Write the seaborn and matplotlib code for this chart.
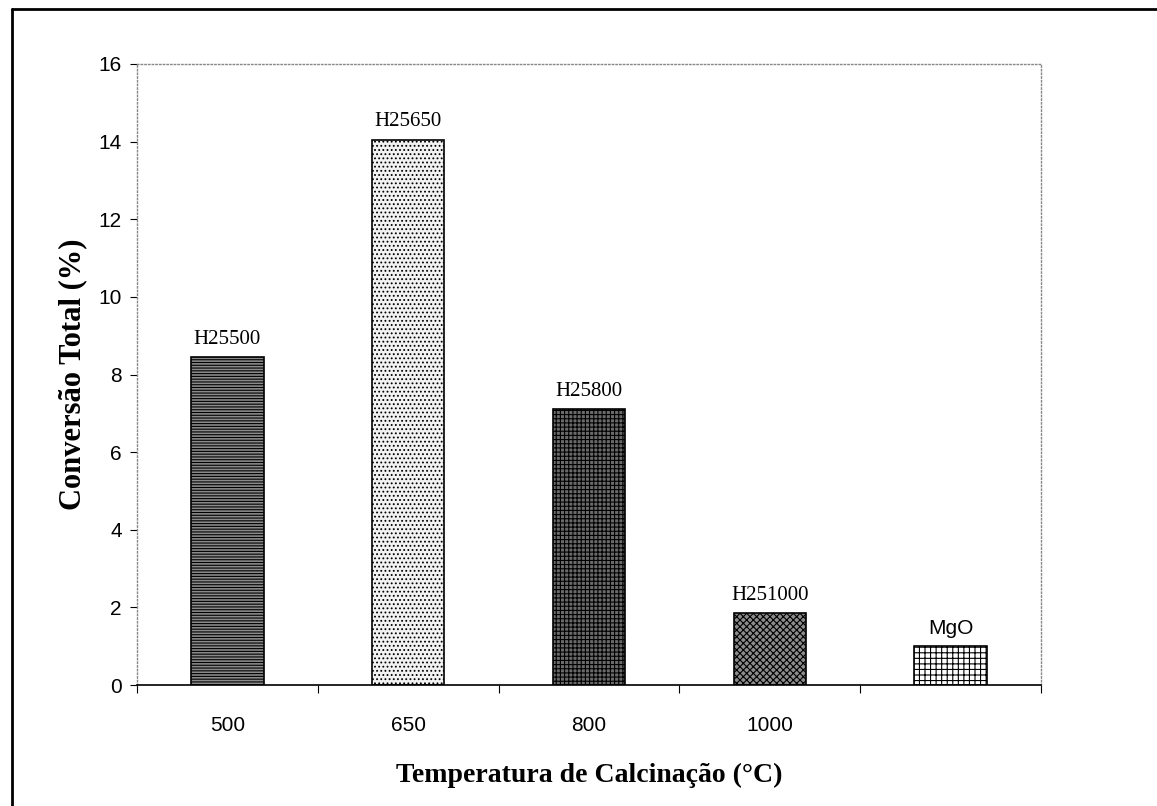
import matplotlib
matplotlib.use("Agg")
import matplotlib.pyplot as plt
from matplotlib.lines import Line2D
import seaborn as sns
import pandas as pd

categories = ["H25500", "H25650", "H25800", "H251000", "MgO"]
tick_labels = ["500", "650", "800", "1000", ""]
values = [8.45, 14.05, 7.1, 1.85, 1.0]

facecolors = ["#8a8a8a", "#f2f2f2", "#6a6a6a", "#8c8c8c", "#ffffff"]
hatches = ["------", "....", "++++", "xxxxx", "+++"]

sns.set_theme(style="white")
plt.rcParams["hatch.linewidth"] = 0.8
plt.rcParams["text.color"] = "black"
plt.rcParams["axes.labelcolor"] = "black"
plt.rcParams["xtick.color"] = "black"
plt.rcParams["ytick.color"] = "black"

df = pd.DataFrame({"amostra": categories, "conv": values})

fig = plt.figure(figsize=(11.57, 8.06), dpi=100)
ax = fig.add_axes([0.1184, 0.150, 0.7814, 0.7706])

sns.barplot(data=df, x="amostra", y="conv", ax=ax, width=0.4,
            color="white", saturation=1)

for bar, fc, h in zip(ax.patches, facecolors, hatches):
    bar.set_facecolor(fc)
    bar.set_hatch(h)
    bar.set_edgecolor("black")
    bar.set_linewidth(1.2)

for i, (name, v) in enumerate(zip(categories, values)):
    fam = "Liberation Sans" if name == "MgO" else "Liberation Serif"
    ax.annotate(name, (i, v), xytext=(0, 6), textcoords="offset points",
                ha="center", va="bottom", fontsize=15, family=fam)

ax.set_xlim(-0.5, 4.5)
ax.set_ylim(0, 16)
ax.set_yticks(range(0, 17, 2))
ax.set_xticks(range(5))
ax.set_xticklabels(tick_labels, family="Liberation Sans", fontsize=15)
for t in ax.get_yticklabels():
    t.set_family("Liberation Sans")
    t.set_fontsize(15)

# category boundary ticks, Excel style
ax.set_xticks([x - 0.5 for x in range(6)], minor=True)
ax.tick_params(axis="x", which="major", length=0, pad=22)
ax.tick_params(axis="x", which="minor", direction="out", length=6, width=0.8,
               color="black", bottom=True)
ax.tick_params(axis="y", direction="out", length=5, width=0.8, color="black",
               left=True, pad=6)

ax.set_xlabel("Temperatura de Calcinação (°C)", family="Liberation Serif",
              fontsize=20, fontweight="bold", labelpad=20)
ax.set_ylabel("Conversão Total (%)", family="Liberation Serif",
              fontsize=22, fontweight="bold", labelpad=8)

for side in ["left", "top", "right"]:
    ax.spines[side].set_color("#888888")
    ax.spines[side].set_linestyle(":")
    ax.spines[side].set_linewidth(1.0)
ax.spines["bottom"].set_color("black")
ax.spines["bottom"].set_linewidth(1.2)

# outer frame of the original figure
fig.add_artist(Line2D([12 / 1157, 12 / 1157], [0, 1 - 9 / 806],
                      transform=fig.transFigure, color="black", lw=2))
fig.add_artist(Line2D([12 / 1157, 1], [1 - 9 / 806, 1 - 9 / 806],
                      transform=fig.transFigure, color="black", lw=2))

fig.savefig("out.png", dpi=100)
